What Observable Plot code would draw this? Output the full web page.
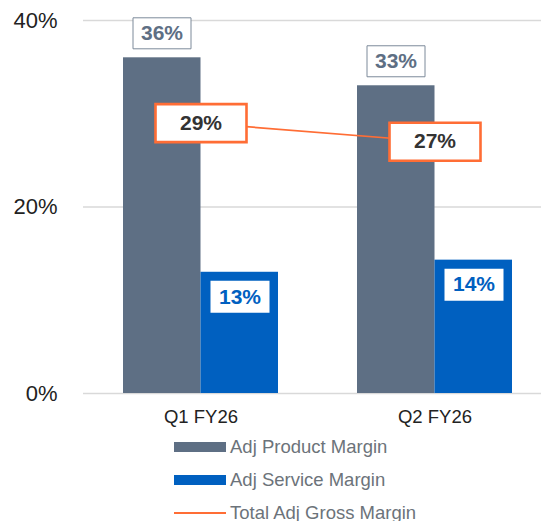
<!DOCTYPE html>
<html>
<head>
<meta charset="utf-8">
<script src="https://cdn.jsdelivr.net/npm/d3@7"></script>
<script src="https://cdn.jsdelivr.net/npm/@observablehq/plot@0.6"></script>
<style>
  body { margin: 0; background: #fff; font-family: "Liberation Sans", Arial, sans-serif; }
  #chart svg { display: block; }
  .legend { padding-left: 174px; }
  .legend .row { display: flex; align-items: center; height: 33px; font-size: 18.5px; color: #6c737a; }
  .legend .sw { width: 52px; margin-right: 4px; }
</style>
</head>
<body>
<div id="chart"></div>
<div class="legend" id="legend"></div>
<script>
const quarters = ["Q1 FY26", "Q2 FY26"];
const productMargin = [36, 33];
const serviceMargin = [13, 14.3];
const totalMargin = [29, 27];
const yTicks = [0, 20, 40];
const seriesNames = ["Adj Product Margin", "Adj Service Margin", "Total Adj Gross Margin"];

const colors = { product: "#5e6f84", service: "#0060c0", total: "#ff6d35" };

const data = quarters.map((q, i) => ({
  quarter: q,
  product: productMargin[i],
  service: serviceMargin[i],
  total: totalMargin[i]
}));

const rectSymbol = (w, h) => ({ draw(ctx) { ctx.rect(-w / 2, -h / 2, w, h); } });
const pct = v => Math.round(v) + "%";
const font = "'Liberation Sans', Arial, sans-serif";

const chart = Plot.plot({
  width: 541,
  height: 430,
  marginLeft: 83,
  marginRight: 0,
  marginTop: 20,
  marginBottom: 37,
  style: { fontFamily: font, color: "#222", background: "#fff" },
  x: { type: "band", domain: quarters, range: [122.5, 513], paddingInner: 0.336, paddingOuter: 0, label: null },
  y: { domain: [0, 40], label: null },
  marks: [
    Plot.ruleY(yTicks, { stroke: "#d9d9d9", strokeWidth: 1.5 }),
    Plot.barY(data, { x: "quarter", y: "product", fill: colors.product, insetRight: 77.5 }),
    Plot.barY(data, { x: "quarter", y: "service", fill: colors.service, insetLeft: 77.5 }),
    Plot.axisY({ ticks: yTicks, tickFormat: d => d + "%", tickSize: 0, tickPadding: 26, fontSize: 22 }),
    Plot.axisX({ tickSize: 0, tickPadding: 16, fontSize: 18.5 }),
    // product labels
    Plot.dot(data, { x: "quarter", y: "product", dx: -39, dy: -24.5, r: 1, symbol: rectSymbol(58, 31), fill: "white", stroke: "#7d8a9a", strokeWidth: 1 }),
    Plot.text(data, { x: "quarter", y: "product", dx: -39, dy: -24.5, text: d => pct(d.product), fill: colors.product, fontSize: 21, fontWeight: "bold" }),
    // service labels
    Plot.dot(data, { x: "quarter", y: "service", dx: 39, dy: 24.5, r: 1, symbol: rectSymbol(59, 32), fill: "white", stroke: "none" }),
    Plot.text(data, { x: "quarter", y: "service", dx: 39, dy: 24.5, text: d => pct(d.service), fill: colors.service, fontSize: 21, fontWeight: "bold" }),
    // total line
    Plot.line(data, { x: "quarter", y: "total", stroke: colors.total, strokeWidth: 1.7 }),
    Plot.dot(data, { x: "quarter", y: "total", r: 1, symbol: rectSymbol(91, 38), fill: "white", stroke: colors.total, strokeWidth: 2.6 }),
    Plot.text(data, { x: "quarter", y: "total", text: d => pct(d.total), fill: "#333", fontSize: 21, fontWeight: "bold" })
  ]
});
document.getElementById("chart").append(chart);

const legend = d3.select("#legend");
const swatches = [
  { name: seriesNames[0], color: colors.product, h: 10 },
  { name: seriesNames[1], color: colors.service, h: 10 },
  { name: seriesNames[2], color: colors.total, h: 2 }
];
swatches.forEach(s => {
  const row = legend.append("div").attr("class", "row");
  row.append("div").attr("class", "sw").style("height", s.h + "px").style("background", s.color);
  row.append("span").text(s.name);
});
</script>
</body>
</html>
